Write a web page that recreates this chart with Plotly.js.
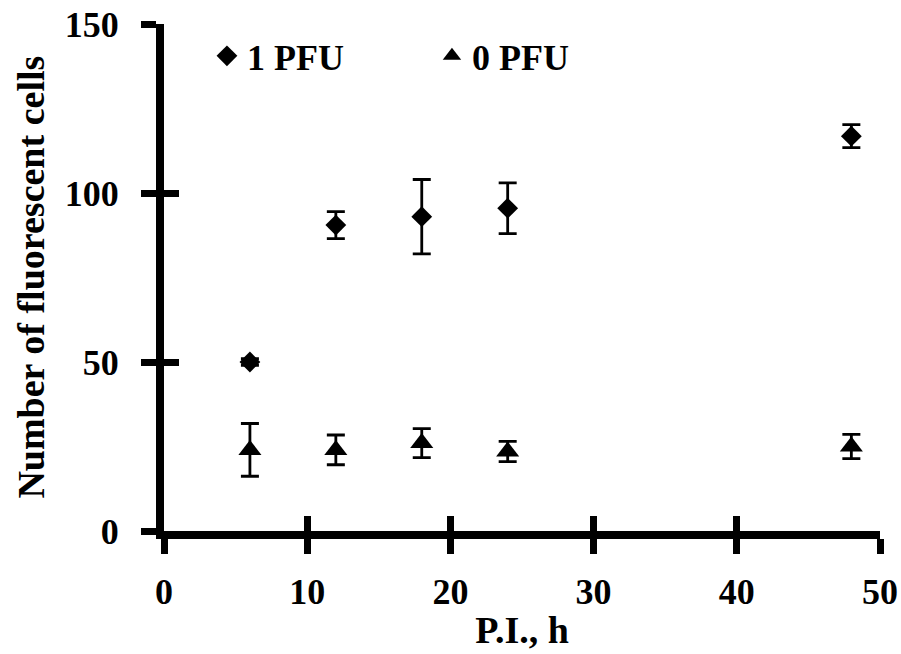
<!DOCTYPE html>
<html><head><meta charset="utf-8">
<script src="https://cdn.plot.ly/plotly-3.0.1.min.js"></script>
<style>body{margin:0;background:#fff}#c{width:901px;height:654px}</style>
</head><body><div id="c"></div>
<script>
const hours = [6, 12, 18, 24, 48];
const pfu1 = [50, 90.5, 93, 95.5, 116.8];
const pfu1Err = [1, 4, 11, 7.5, 3.4];
const pfu0 = [24, 24, 26, 23.5, 25];
const pfu0Err = [7.8, 4.4, 4.3, 3, 3.6];
const xTicks = [0, 10, 20, 30, 40, 50];
const yTicks = [0, 50, 100, 150];
const yTitle = 'Number of fluorescent cells';
const xTitle = 'P.I., h';

const fam = 'Liberation Serif, Times New Roman, serif';
const errStyle = {type: 'data', visible: true, color: '#000', thickness: 2.8, width: 9};

const traces = [
  {x: hours, y: pfu1, type: 'scatter', mode: 'markers', name: '<b>1 PFU</b>',
   marker: {symbol: 'diamond', size: 16, color: '#000'},
   error_y: Object.assign({array: pfu1Err}, errStyle)},
  {x: hours, y: pfu0, type: 'scatter', mode: 'markers', name: '<b>0 PFU</b>',
   marker: {symbol: 'triangle-up', size: 20, color: '#000'},
   error_y: Object.assign({array: pfu0Err}, errStyle)},
  {x: [0], y: [0], xaxis: 'x2', yaxis: 'y2', mode: 'markers', showlegend: false,
   marker: {opacity: 0}, hoverinfo: 'skip'}
];

const tickCommon = {ticks: 'outside', ticklen: 15, tickwidth: 7, tickcolor: '#000'};

const layout = {
  width: 901, height: 654,
  margin: {l: 164, r: 21, t: 24, b: 123},
  paper_bgcolor: '#fff', plot_bgcolor: '#fff',
  font: {family: fam, size: 36, color: '#000'},
  showlegend: true,
  legend: {orientation: 'h', x: 0.06, y: 0.937, xanchor: 'left', yanchor: 'middle',
           font: {family: fam, size: 36, color: '#000'}, itemwidth: 30,
           entrywidth: 180, bgcolor: 'rgba(0,0,0,0)'},
  xaxis: Object.assign({range: [0, 50], tickvals: xTicks, ticktext: xTicks.map(v => '<b>' + v + '</b>'),
          showgrid: false, zeroline: false, showline: true, linewidth: 8, linecolor: '#000',
          tickfont: {family: fam, size: 36}, ticklabelstandoff: 7,
          title: {text: '<b>' + xTitle + '</b>', font: {family: fam, size: 38}, standoff: 8}}, tickCommon),
  yaxis: Object.assign({range: [0, 150], tickvals: yTicks, ticktext: yTicks.map(v => '<b>' + v + '</b>'),
          showgrid: false, zeroline: false, showline: true, linewidth: 8, linecolor: '#000',
          tickfont: {family: fam, size: 36}, ticklabelstandoff: 15}, tickCommon),
  xaxis2: {range: [0, 50], overlaying: 'x', anchor: 'y2', tickvals: xTicks, showticklabels: false,
           showgrid: false, zeroline: false, showline: false,
           ticks: 'inside', ticklen: 15, tickwidth: 7, tickcolor: '#000'},
  yaxis2: {range: [0, 150], overlaying: 'y', anchor: 'x2', tickvals: yTicks, showticklabels: false,
           showgrid: false, zeroline: false, showline: false,
           ticks: 'inside', ticklen: 15, tickwidth: 7, tickcolor: '#000'},
  annotations: [
    {text: '<b>' + yTitle + '</b>', xref: 'paper', yref: 'paper', x: -0.187, y: 0.5,
     xanchor: 'center', yanchor: 'middle', textangle: -90, showarrow: false,
     font: {family: fam, size: 38, color: '#000'}}
  ]
};

Plotly.newPlot('c', traces, layout, {displayModeBar: false, staticPlot: true});
</script></body></html>
